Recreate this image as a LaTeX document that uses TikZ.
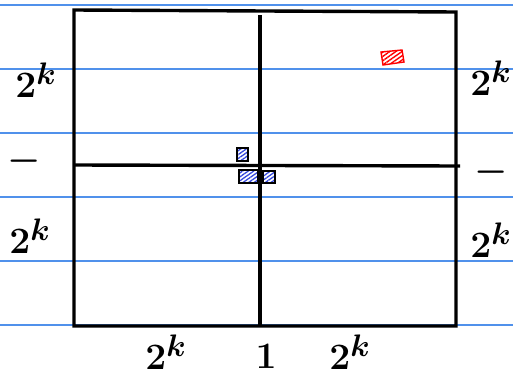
\documentclass[tikz,border=0pt]{standalone}
\usetikzlibrary{patterns.meta}
\definecolor{ruled}{RGB}{80,145,235}
\definecolor{hatchblue}{RGB}{50,70,220}
\begin{document}
\begin{tikzpicture}[x=1pt,y=-1pt,
  ruleline/.style={ruled,line width=1.2pt},
  gridline/.style={black,line width=3.4pt},
  lbl/.style={inner sep=0pt,font=\Huge\boldmath,scale=1.5,transform shape},
  bluebox/.style={draw=black,line width=1.2pt,pattern={Lines[angle=35,distance=3.2pt,line width=1.3pt]},pattern color=hatchblue},
  redbox/.style={draw=red,line width=1.4pt,pattern={Lines[angle=35,distance=3.5pt,line width=1.4pt]},pattern color=red}]
\useasboundingbox (0,0) rectangle (513,380);
% ruled paper
\foreach \yy in {5,69,133,197,261,325} \draw[ruleline] (0,\yy) -- (513,\yy);
% grid
\coordinate (tl) at (74,10);
\coordinate (tr) at (456,12);
\coordinate (bl) at (74,326);
\coordinate (br) at (456,326);
\draw[gridline] (tl) -- (tr) -- (br) -- (bl) -- cycle;
\coordinate (vt) at (260,15);
\coordinate (vb) at (260,326);
\draw[gridline] (vt) -- (vb);
\coordinate (hl) at (74,165);
\coordinate (hr) at (460,166);
\draw[gridline] (hl) -- (hr);
% small squares
\draw[bluebox] (237,148) rectangle (248,161);
\draw[bluebox] (239,170) rectangle (258,183);
\draw[bluebox] (263,171) rectangle (275,183);
\draw[redbox] (381,52) -- (402,50) -- (404,62) -- (383,65) -- cycle;
% labels
\node[lbl] (l1) at (36,80) {$2^k$};
\node[lbl] (l2) at (24,161) {$-$};
\node[lbl] (l3) at (30,236) {$2^k$};
\node[lbl] (r1) at (491,78) {$2^k$};
\node[lbl] (r2) at (491,172) {$-$};
\node[lbl] (r3) at (491,240) {$2^k$};
\node[lbl] (b1) at (166,352) {$2^k$};
\node[lbl] (b2) at (266,356) {$1$};
\node[lbl] (b3) at (350,352) {$2^k$};
\end{tikzpicture}
\end{document}
